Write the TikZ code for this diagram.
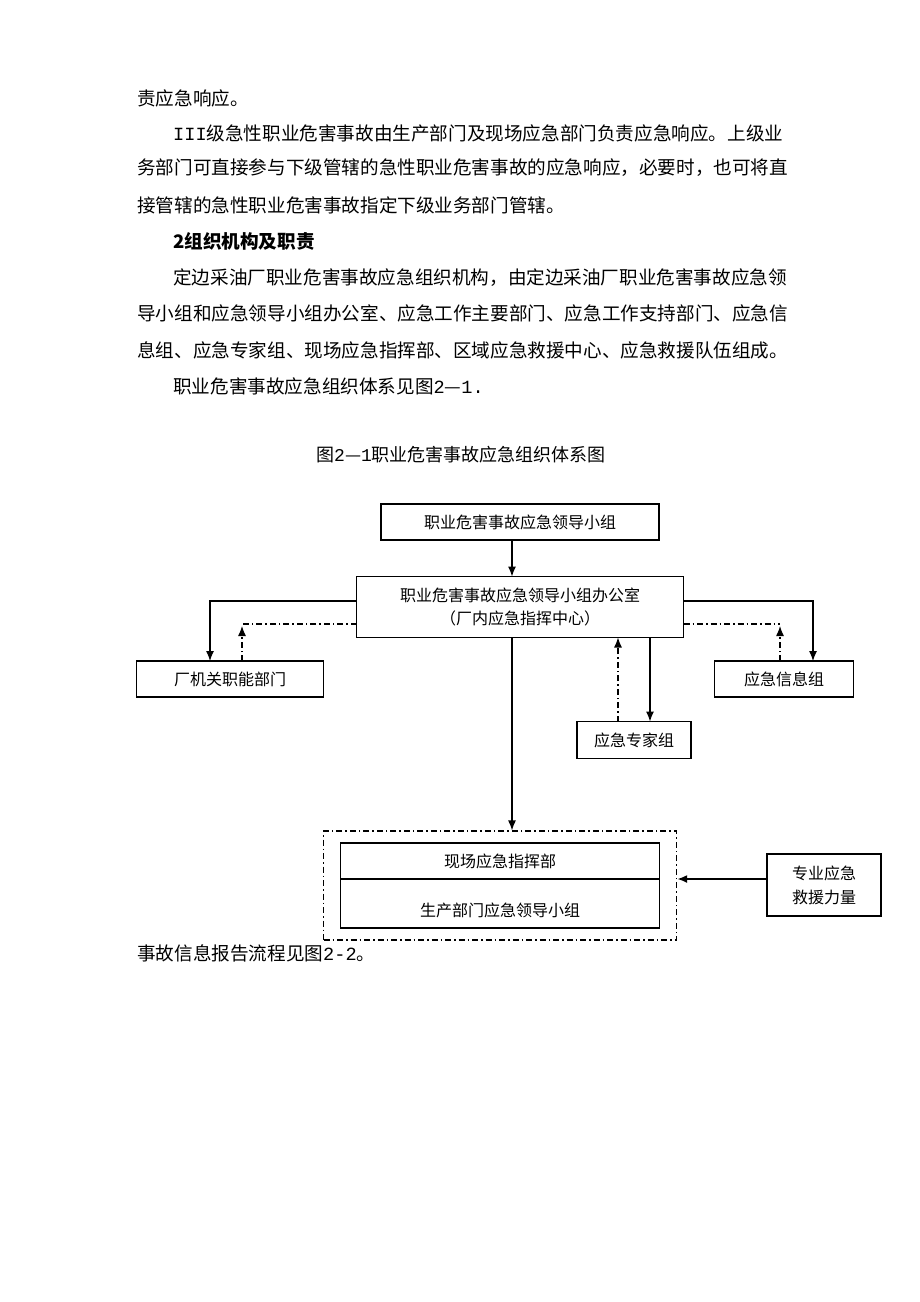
\documentclass[tikz,border=0pt]{standalone}
\usepackage{fontspec}
\setmainfont{Noto Sans CJK SC}
\newfontfamily\hw{Liberation Mono}
\usetikzlibrary{arrows.meta,positioning,fit}

\begin{document}
\begin{tikzpicture}[x=1pt,y=-1pt,
  bodyline/.style={anchor=west,inner sep=0pt,font=\fontsize{18.6}{22}\selectfont},
  unit/.style={draw,rectangle,line width=1.2pt,inner sep=0pt,outer sep=0pt,
    align=center,font=\fontsize{16}{23}\selectfont},
  flow/.style={-{Latex[length=10pt,width=8pt]},line width=1.2pt},
  report/.style={line width=1.2pt,dash pattern=on 6pt off 3pt on 1.5pt off 3pt},
]
  \fill[white] (0,0) rectangle (920,1302);
  \useasboundingbox (0,0) rectangle (920,1302);

  % running text
  \node[bodyline] (p1) at (137,98) {责应急响应。};
  \node[bodyline] (p2) at (173,133) {{\hw III}级急性职业危害事故由生产部门及现场应急部门负责应急响应。上级业};
  \node[bodyline] (p3) at (137,168) {务部门可直接参与下级管辖的急性职业危害事故的应急响应，必要时，也可将直};
  \node[bodyline] (p4) at (137,205) {接管辖的急性职业危害事故指定下级业务部门管辖。};
  \node[bodyline,font=\fontsize{18.6}{22}\selectfont\bfseries] (head) at (173,241) {2组织机构及职责};
  \node[bodyline] (p5) at (173,278) {定边采油厂职业危害事故应急组织机构，由定边采油厂职业危害事故应急领};
  \node[bodyline] (p6) at (137,313) {导小组和应急领导小组办公室、应急工作主要部门、应急工作支持部门、应急信};
  \node[bodyline] (p7) at (137,350) {息组、应急专家组、现场应急指挥部、区域应急救援中心、应急救援队伍组成。};
  \node[bodyline] (p8) at (173,386) {职业危害事故应急组织体系见图{\hw 2}—{\hw 1.}};
  \node[bodyline,font=\fontsize{18}{22}\selectfont] (cap) at (316,455) {图{\hw 2}—{\hw 1}职业危害事故应急组织体系图};
  \node[bodyline] (tail) at (137,953) {事故信息报告流程见图{\hw 2-2}。};

  % organisation chart
  \node[unit,minimum width=278pt,minimum height=36pt] (lead) at (520,522) {职业危害事故应急领导小组};
  \node[unit,minimum width=327pt,minimum height=61pt] (office) at (520,607)
    {职业危害事故应急领导小组办公室\\（厂内应急指挥中心）};
  \node[unit,minimum width=187pt,minimum height=36pt] (dept) at (230,679) {厂机关职能部门};
  \node[unit,minimum width=139pt,minimum height=36pt] (info) at (784,679) {应急信息组};
  \node[unit,minimum width=114pt,minimum height=37pt] (expert) at (634,740) {应急专家组};
  \node[unit,minimum width=319pt,minimum height=36pt] (scene) at (500,861) {现场应急指挥部};
  \node[unit,minimum width=319pt,minimum height=49pt,below=0pt of scene] (prod)
    {\raisebox{-8pt}[12pt][3pt]{生产部门应急领导小组}};
  \node[report,draw,fit=(scene)(prod),inner xsep=17pt,inner ysep=12pt] (field) {};
  \node[unit,minimum width=114pt,minimum height=62pt,font=\fontsize{16}{24}\selectfont] (rescue) at (824,885)
    {专业应急\\救援力量};

  \coordinate (spine) at (512,0);
  \coordinate (lsol) at (210,601);
  \coordinate (ldash) at (242,624);
  \coordinate (rsol) at (813,601);
  \coordinate (rdash) at (780,624);
  \coordinate (eup) at (618,0);
  \coordinate (edown) at (650,0);

  \draw[flow] (lead.south -| spine) -- (office.north -| spine);
  \draw[flow] (office.west |- lsol) -| (dept.north -| lsol);
  \draw[report] (office.west |- ldash) -- (ldash);
  \draw[report,flow,shorten >=2pt] (dept.north -| ldash) -- (ldash);
  \draw[flow] (office.east |- rsol) -| (info.north -| rsol);
  \draw[report] (office.east |- rdash) -- (rdash);
  \draw[report,flow,shorten >=2pt] (info.north -| rdash) -- (rdash);
  \draw[report,flow] (expert.north -| eup) -- (office.south -| eup);
  \draw[flow] (office.south -| edown) -- (expert.north -| edown);
  \draw[flow] (office.south -| spine) -- (field.north -| spine);
  \draw[flow,line width=2.2pt] (rescue.west |- scene.south) -- (field.east |- scene.south);
\end{tikzpicture}
\end{document}
